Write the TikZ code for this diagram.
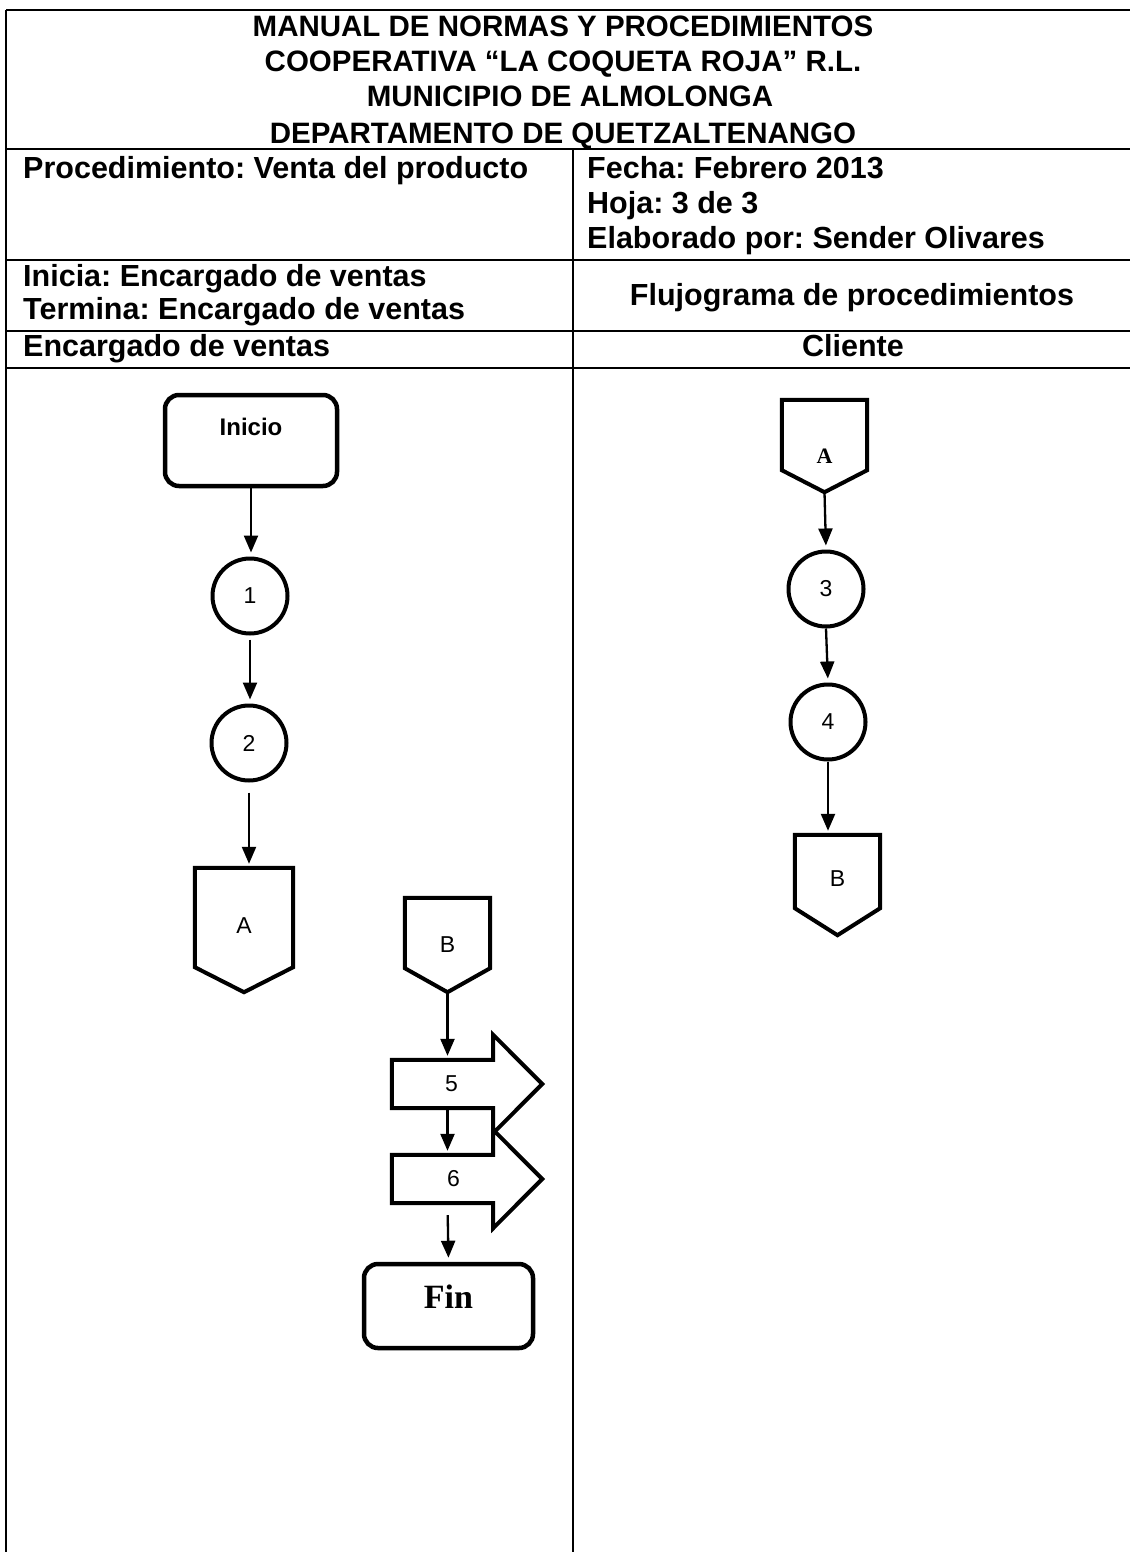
\documentclass[tikz,border=0pt]{standalone}
\usepackage{fontspec}
\setmainfont{Liberation Sans}
\newfontfamily\serifface{Liberation Serif}
\usetikzlibrary{arrows.meta,calc}
\tikzset{
  tline/.style={line width=2pt},
  ttl/.style={font=\fontsize{29.5}{35}\selectfont\bfseries, inner sep=0pt, anchor=base},
  hdr/.style={font=\fontsize{30.5}{35}\selectfont\bfseries, inner sep=0pt, anchor=base west},
  hdrc/.style={font=\fontsize{30.5}{35}\selectfont\bfseries, inner sep=0pt, anchor=base},
  term/.style={draw, line width=4.5pt, rounded corners=14pt, inner sep=0pt},
  proc/.style={draw, circle, line width=4pt, minimum size=75pt, inner sep=0pt, font=\fontsize{23}{23}\selectfont},
  offbox/.style={inner sep=0pt, font=\fontsize{23}{23}\selectfont},
  shapeline/.style={line width=4pt, line join=miter},
  flow/.style={line width=2.3pt, -{Triangle[length=17pt,width=14pt]}, shorten >=4pt},
}
\newcommand{\liftto}[2]{\raisebox{#1}[0pt][0pt]{#2}}
\begin{document}
\frenchspacing
\begin{tikzpicture}[x=1pt,y=-1pt]
\useasboundingbox (0,0) rectangle (1130,1552);
% table frame
\draw[tline] (6,10) -- (1130,10);
\draw[tline] (6,10) -- (6,1552);
\draw[tline] (6,149) -- (1130,149);
\draw[tline] (6,260) -- (1130,260);
\draw[tline] (6,331) -- (1130,331);
\draw[tline] (6,368) -- (1130,368);
\draw[tline] (573,149) -- (573,1552);
% title
\node[ttl] (t1) at (563,37) {MANUAL DE NORMAS Y PROCEDIMIENTOS};
\node[ttl] (t2) at (563,72) {COOPERATIVA “LA COQUETA ROJA” R.L.};
\node[ttl] (t3) at (570,107) {MUNICIPIO DE ALMOLONGA};
\node[ttl] (t4) at (563,143) {DEPARTAMENTO DE QUETZALTENANGO};
\node[hdr] (proc) at (23,178) {Procedimiento: Venta del producto};
\node[hdr] (fecha) at (587,178) {Fecha: Febrero 2013};
\node[hdr] (hoja) at (587,213) {Hoja: 3 de 3};
\node[hdr] (elab) at (587,248) {Elaborado por: Sender Olivares};
\node[hdr] (ini) at (23,286) {Inicia: Encargado de ventas};
\node[hdr] (ter) at (23,319) {Termina: Encargado de ventas};
\node[hdrc] (fluj) at (852,305) {Flujograma de procedimientos};
\node[hdr] (lane1) at (23,356) {Encargado de ventas};
\node[hdrc] (lane2) at (853,356) {Cliente};
% left lane
\node[term, minimum width=172pt, minimum height=91pt, font=\fontsize{24}{24}\selectfont\bfseries] (inicio) at (251,440.5) {\liftto{5pt}{Inicio}};
\node[proc] (c1) at (250,596) {1};
\node[proc] (c2) at (249,743) {2};
\node[offbox, minimum width=98pt, minimum height=124pt] (Al) at (244,930) {\liftto{-3pt}{A}};
\draw[shapeline] (Al.north west) -- (Al.north east) -- ($(Al.south east)+(0,-25)$) -- (Al.south) -- ($(Al.south west)+(0,-25)$) -- cycle;
\node[offbox, minimum width=85pt, minimum height=94pt] (Bl) at (447.5,945) {B};
\draw[shapeline] (Bl.north west) -- (Bl.north east) -- ($(Bl.south east)+(0,-24)$) -- (Bl.south) -- ($(Bl.south west)+(0,-24)$) -- cycle;
\node[offbox, minimum width=101pt, minimum height=48pt] (p5) at (442.5,1084) {\hspace*{18pt}5};
\draw[shapeline] (p5.south west) -- (p5.north west) -- (p5.north east) -- ($(p5.north east)+(0,-25)$) -- ($(p5.east)+(49,0)$) -- ($(p5.south east)+(0,25)$) -- (p5.south east) -- cycle;
\node[offbox, minimum width=101pt, minimum height=48pt] (p6) at (442.5,1179) {\hspace*{22pt}6};
\draw[shapeline] (p6.south west) -- (p6.north west) -- (p6.north east) -- ($(p6.north east)+(0,-25)$) -- ($(p6.east)+(49,0)$) -- ($(p6.south east)+(0,25)$) -- (p6.south east) -- cycle;
\node[term, minimum width=169pt, minimum height=84pt, font=\fontsize{34}{34}\selectfont\serifface\bfseries] (fin) at (448.5,1306) {\liftto{-2pt}{Fin}};
% right lane
\node[offbox, minimum width=85pt, minimum height=92pt, font=\fontsize{22}{22}\selectfont\serifface\bfseries] (Ar) at (824.5,446) {\liftto{-17pt}{A}};
\draw[shapeline] (Ar.north west) -- (Ar.north east) -- ($(Ar.south east)+(0,-22)$) -- (Ar.south) -- ($(Ar.south west)+(0,-22)$) -- cycle;
\node[proc] (c3) at (826,589) {3};
\node[proc] (c4) at (828,722) {4};
\node[offbox, minimum width=85pt, minimum height=100pt] (Br) at (837.5,885) {\liftto{-1pt}{B}};
\draw[shapeline] (Br.north west) -- (Br.north east) -- ($(Br.south east)+(0,-27)$) -- (Br.south) -- ($(Br.south west)+(0,-27)$) -- cycle;
% connectors
\draw[flow] (inicio.south) -- (inicio.south |- c1.north);
\draw[flow, shorten <=4pt] (c1.south) -- (c1.south |- c2.north);
\draw[flow, shorten <=10pt] (c2.south) -- (c2.south |- Al.north);
\draw[flow] (Bl.south) -- (Bl.south |- p5.north);
\draw[flow] (Bl.south |- p5.south) -- (Bl.south |- p6.north);
\draw[flow, shorten <=12pt] (Bl.south |- p6.south) -- (fin.north);
\draw[flow] (Ar.south) -- (c3.north);
\draw[flow] (c3.south) -- (c4.north);
\draw[flow] (c4.south) -- (c4.south |- Br.north);
\end{tikzpicture}
\end{document}
